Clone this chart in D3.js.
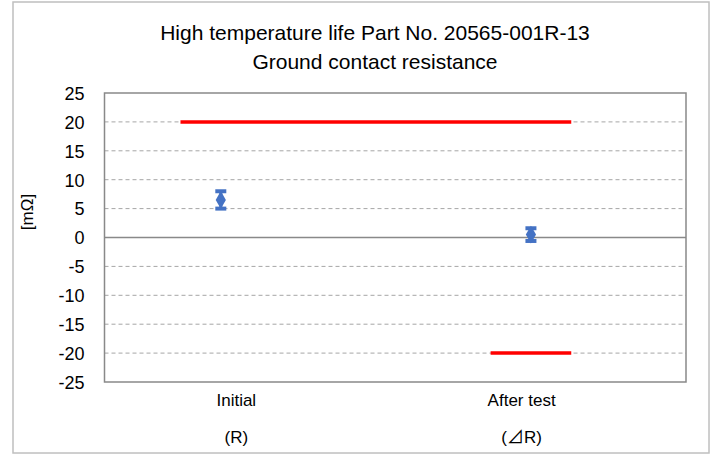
<!DOCTYPE html>
<html>
<head>
<meta charset="utf-8">
<script src="https://cdn.jsdelivr.net/npm/d3@7"></script>
<style>
  body { margin: 0; background: #fff; }
  text { font-family: "Liberation Sans", Arial, sans-serif; fill: #000; }
</style>
</head>
<body>
<svg id="chart"></svg>
<script>
// categories and their positions on the x axis
const categories = ['Initial', 'After test'];
const subLabels = ['(R)', '(\u22BFR)'];
const catX = [1, 2];
const labelX = [1.05, 1.97];

// measured values [mΩ]
const means = [6.5, 0.5];
const maxs = [8.0, 1.6];
const mins = [5.0, -0.6];

// spec limit lines
const limitY = [20, -20];
const limitFrom = [0.87, 1.87];
const limitTo = [2.13, 2.13];

const yTicks = [25, 20, 15, 10, 5, 0, -5, -10, -15, -20, -25];

const W = 715, H = 454;
const margin = { top: 93, right: 29, bottom: 72, left: 104.5 };
const width = W - margin.left - margin.right;
const height = H - margin.top - margin.bottom;

const svg = d3.select('#chart').attr('width', W).attr('height', H);

// outer frame
svg.append('rect')
  .attr('x', 13).attr('y', 2)
  .attr('width', 696).attr('height', 451)
  .attr('fill', '#fff').attr('stroke', '#bfbfbf').attr('stroke-width', 1.5);

// title
const title = svg.append('text')
  .attr('text-anchor', 'middle')
  .attr('font-size', 21);
title.append('tspan').attr('x', 375).attr('y', 40).text('High temperature life Part No. 20565-001R-13');
title.append('tspan').attr('x', 375).attr('y', 69).text('Ground contact resistance');

const g = svg.append('g').attr('transform', `translate(${margin.left},${margin.top})`);

const x = d3.scaleLinear().domain([0.625, 2.5]).range([0, width]);
const y = d3.scaleLinear().domain([-25, 25]).range([height, 0]);

// grid lines
g.append('g')
  .selectAll('line')
  .data(yTicks.filter(d => d !== 0 && Math.abs(d) !== 25))
  .join('line')
  .attr('x1', 0).attr('x2', width)
  .attr('y1', d => y(d)).attr('y2', d => y(d))
  .attr('stroke', '#a6a6a6').attr('stroke-width', 1)
  .attr('stroke-dasharray', '4,3');

// zero line
g.append('line')
  .attr('x1', 0).attr('x2', width)
  .attr('y1', y(0)).attr('y2', y(0))
  .attr('stroke', '#898989').attr('stroke-width', 1.5);

// plot border
g.append('rect')
  .attr('width', width).attr('height', height)
  .attr('fill', 'none').attr('stroke', '#898989').attr('stroke-width', 1.5);

// y axis
const yAxis = g.append('g')
  .call(d3.axisLeft(y).tickValues(yTicks).tickSize(0).tickPadding(20).tickFormat(d => String(d)));
yAxis.select('.domain').remove();
yAxis.selectAll('text').attr('font-size', 18).attr('dy', '0.35em');

svg.append('text')
  .attr('transform', 'translate(33,212) rotate(-90)')
  .attr('text-anchor', 'middle')
  .attr('font-size', 17)
  .text('[m\u03A9]');

// category labels
g.selectAll('.cat')
  .data(categories)
  .join('text')
  .attr('class', 'cat')
  .attr('x', (d, i) => x(labelX[i]))
  .attr('y', height + 24)
  .attr('text-anchor', 'middle')
  .attr('font-size', 17)
  .text(d => d);

g.selectAll('.sub')
  .data(subLabels)
  .join('text')
  .attr('class', 'sub')
  .attr('x', (d, i) => x(labelX[i]))
  .attr('y', height + 61)
  .attr('text-anchor', 'middle')
  .attr('font-size', 17)
  .style('font-family', '"Liberation Sans", "Noto Sans CJK JP", sans-serif')
  .text(d => d);

// limit lines
g.selectAll('.limit')
  .data(limitY)
  .join('line')
  .attr('class', 'limit')
  .attr('x1', (d, i) => x(limitFrom[i]))
  .attr('x2', (d, i) => x(limitTo[i]))
  .attr('y1', d => y(d)).attr('y2', d => y(d))
  .attr('stroke', '#ff0000').attr('stroke-width', 3.5);

// error bars and mean markers
const blue = '#4472c4';
const pts = g.selectAll('.pt')
  .data(means)
  .join('g')
  .attr('class', 'pt')
  .attr('transform', (d, i) => `translate(${x(catX[i])},0)`);

pts.append('line')
  .attr('y1', (d, i) => y(maxs[i])).attr('y2', (d, i) => y(mins[i]))
  .attr('stroke', blue).attr('stroke-width', 3);
pts.append('line')
  .attr('x1', -5.5).attr('x2', 5.5)
  .attr('y1', (d, i) => y(maxs[i])).attr('y2', (d, i) => y(maxs[i]))
  .attr('stroke', blue).attr('stroke-width', 4);
pts.append('line')
  .attr('x1', -5.5).attr('x2', 5.5)
  .attr('y1', (d, i) => y(mins[i])).attr('y2', (d, i) => y(mins[i]))
  .attr('stroke', blue).attr('stroke-width', 4);
pts.append('path')
  .attr('d', d3.symbol(d3.symbolDiamond, 90))
  .attr('transform', d => `translate(0,${y(d)})`)
  .attr('fill', blue);
</script>
</body>
</html>
